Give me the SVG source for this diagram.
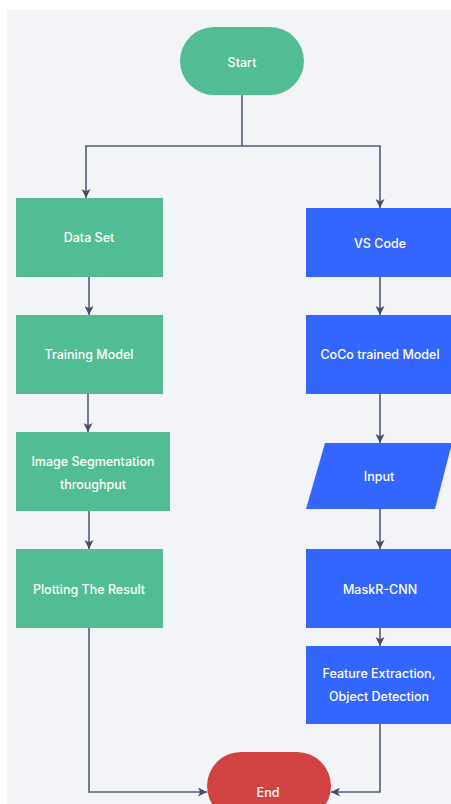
<svg xmlns="http://www.w3.org/2000/svg" width="451" height="804" viewBox="0 0 451 804">
<style>
.bg{fill:#f3f4f8}
.g{fill:#52bd94}
.b{fill:#3366ff}
.r{fill:#d14343}
.t{fill:#ffffff;font-family:Inter,"Liberation Sans",sans-serif;font-size:12.5px;font-weight:500;text-anchor:middle;dominant-baseline:central}
.c{fill:none;stroke:#565b73;stroke-width:1.6}
</style>
<defs>
<marker id="ah" viewBox="0 0 10 10" refX="10" refY="5" markerWidth="9" markerHeight="9" markerUnits="userSpaceOnUse" orient="auto">
<path d="M0,0 L10,5 L0,10 L2.5,5 z" fill="#474d66"/>
</marker>
</defs>
<rect width="451" height="804" fill="#ffffff"/>
<rect class="bg" x="7" y="10" width="444" height="794"/>
<g id="connectors">
<path class="c" d="M242,95 V146 H86 V198" marker-end="url(#ah)"/>
<path class="c" d="M242,146 H380 V208" marker-end="url(#ah)"/>
<path class="c" d="M89,277 V315" marker-end="url(#ah)"/>
<path class="c" d="M88,394 V432" marker-end="url(#ah)"/>
<path class="c" d="M89,511 V549" marker-end="url(#ah)"/>
<path class="c" d="M89,628 V792 H207" marker-end="url(#ah)"/>
<path class="c" d="M380,277 V315" marker-end="url(#ah)"/>
<path class="c" d="M380,394 V443" marker-end="url(#ah)"/>
<path class="c" d="M380,509 V549" marker-end="url(#ah)"/>
<path class="c" d="M380,628 V646" marker-end="url(#ah)"/>
<path class="c" d="M380,724 V792 H331" marker-end="url(#ah)"/>
</g>
<g id="start"><rect class="g" x="180" y="27" width="124" height="68" rx="34"/><text class="t" x="242" y="62">Start</text></g>
<g id="dataset"><rect class="g" x="16" y="198" width="147" height="79"/><text class="t" x="89" y="237">Data Set</text></g>
<g id="training"><rect class="g" x="16" y="315" width="147" height="79"/><text class="t" x="89" y="354">Training Model</text></g>
<g id="segmentation"><rect class="g" x="16" y="432" width="154" height="79"/><text class="t" x="93" y="461">Image Segmentation</text><text class="t" x="93" y="484">throughput</text></g>
<g id="plotting"><rect class="g" x="16" y="549" width="147" height="79"/><text class="t" x="89" y="589">Plotting The Result</text></g>
<g id="vscode"><rect class="b" x="306" y="208" width="150" height="69"/><text class="t" x="380" y="243">VS Code</text></g>
<g id="coco"><rect class="b" x="306" y="315" width="150" height="79"/><text class="t" x="380" y="354">CoCo trained Model</text></g>
<g id="input"><polygon class="b" points="325,443 452,443 435,509 306,509"/><text class="t" x="379" y="476">Input</text></g>
<g id="maskrcnn"><rect class="b" x="306" y="549" width="150" height="79"/><text class="t" x="380" y="589">MaskR-CNN</text></g>
<g id="feature"><rect class="b" x="306" y="646" width="150" height="78"/><text class="t" x="379" y="673">Feature Extraction,</text><text class="t" x="379" y="696">Object Detection</text></g>
<g id="end"><rect class="r" x="207" y="752" width="124" height="68" rx="34"/><text class="t" x="268" y="792">End</text></g>
</svg>
